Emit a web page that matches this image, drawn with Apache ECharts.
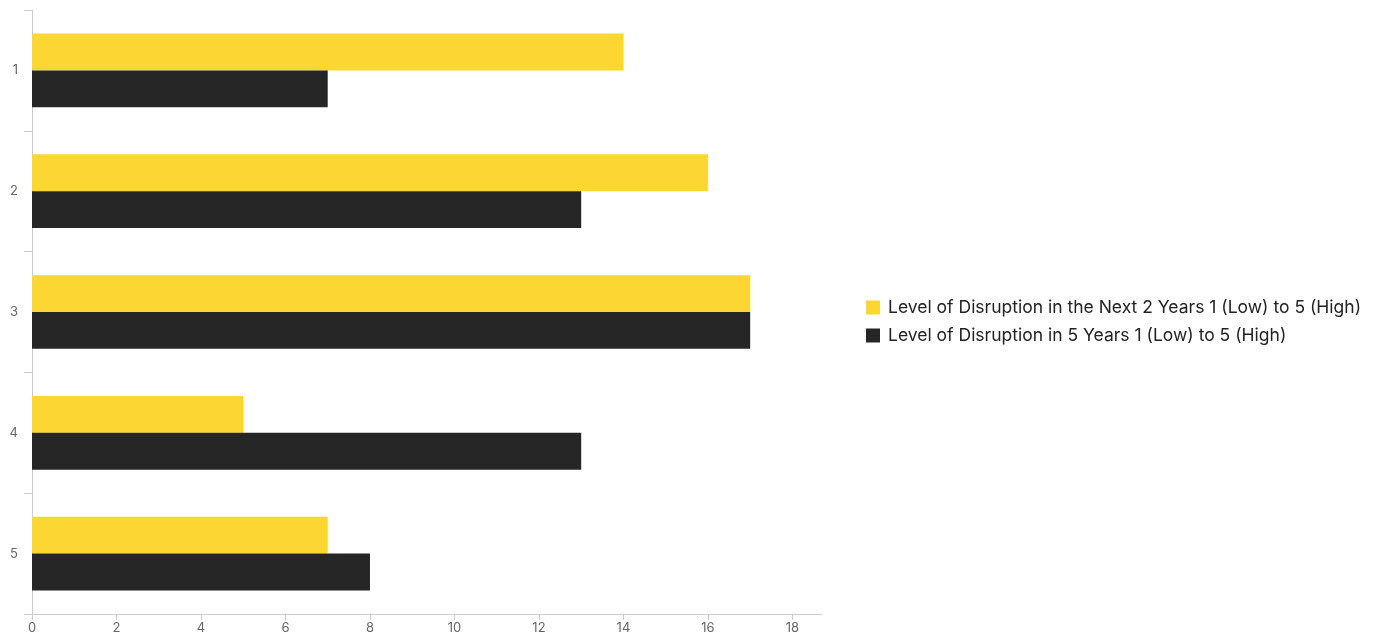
<!DOCTYPE html>
<html>
<head>
<meta charset="utf-8">
<script src="https://cdn.jsdelivr.net/npm/echarts@6/dist/echarts.min.js"></script>
<style>
  html, body { margin: 0; padding: 0; background: #fff; }
  #chart { width: 1381px; height: 643px; }
</style>
</head>
<body>
<div id="chart"></div>
<script>
const categories = ["1", "2", "3", "4", "5"];
const nextTwoYears = [14, 16, 17, 5, 7];
const fiveYears = [7, 13, 17, 13, 8];
const xTicks = [0, 2, 4, 6, 8, 10, 12, 14, 16, 18];
const seriesNames = [
  "Level of Disruption in the Next 2 Years 1 (Low) to 5 (High)",
  "Level of Disruption in 5 Years 1 (Low) to 5 (High)"
];

const chart = echarts.init(document.getElementById("chart"));

const option = {
  animation: false,
  textStyle: { fontFamily: "Inter" },
  grid: { left: 32, top: 10, right: 559, bottom: 29 },
  legend: {
    orient: "vertical",
    left: 861,
    top: "middle",
    itemWidth: 14,
    itemHeight: 14,
    itemGap: 10,
    icon: "rect",
    textStyle: { fontSize: 17.5, color: "#222", fontFamily: "Inter", padding: [0, 0, 0, 3] },
    data: seriesNames
  },
  xAxis: {
    type: "value",
    min: 0,
    max: 18.7,
    axisLine: { show: true, lineStyle: { color: "#ccc" } },
    axisTick: { show: true, length: 6, customValues: xTicks, lineStyle: { color: "#ccc" } },
    axisLabel: { customValues: xTicks, color: "#666", fontSize: 13, margin: 8, fontFamily: "Inter" },
    splitLine: { show: false }
  },
  yAxis: {
    type: "category",
    inverse: true,
    data: categories,
    axisLine: { show: true, lineStyle: { color: "#ccc" } },
    axisTick: { show: true, length: 8, lineStyle: { color: "#ccc" } },
    axisLabel: { color: "#666", fontSize: 13, margin: 14, fontFamily: "Inter" }
  },
  series: [
    {
      name: seriesNames[0],
      type: "bar",
      data: nextTwoYears,
      itemStyle: { color: "#FCD733" },
      barGap: 0,
      barCategoryGap: "39%"
    },
    {
      name: seriesNames[1],
      type: "bar",
      data: fiveYears,
      itemStyle: { color: "#262626" },
      barGap: 0,
      barCategoryGap: "39%"
    }
  ]
};

chart.setOption(option);
window.addEventListener("resize", () => chart.resize());
</script>
</body>
</html>
